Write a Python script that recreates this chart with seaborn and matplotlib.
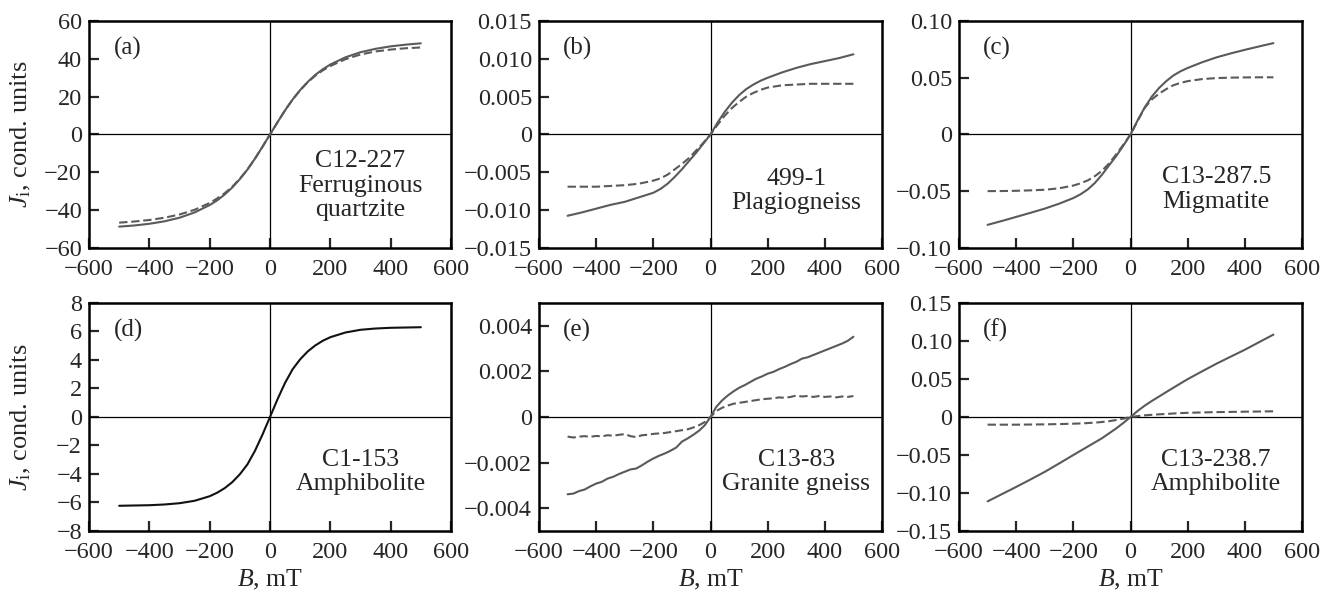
import matplotlib
matplotlib.use("Agg")
import matplotlib.pyplot as plt
import seaborn as sns

# ---------------- data ----------------
B = [-500, -450, -400, -350, -300, -250, -200, -175, -150, -125, -100, -75, -50, -25, 0,
     25, 50, 75, 100, 125, 150, 175, 200, 250, 300, 350, 400, 450, 500]

B_e = [-500, -480, -460, -440, -420, -400, -380, -360, -340, -320, -300, -280, -260, -240,
       -220, -200, -180, -160, -140, -120, -100, -80, -60, -40, -20, 0, 20, 40, 60, 80, 100,
       120, 140, 160, 180, 200, 220, 240, 260, 280, 300, 320, 340, 360, 380, 400, 420, 440,
       460, 480, 500]

a_solid = [-48.7, -48.1, -47.2, -45.9, -44.0, -41.2, -37.3, -34.8, -31.7, -28.0, -23.6, -18.6,
           -12.8, -6.5, 0, 6.5, 12.8, 18.5, 23.5, 27.8, 31.5, 34.5, 37.0, 40.8, 43.5, 45.3,
           46.6, 47.5, 48.2]
a_dashed = [-46.6, -46.0, -45.2, -44.0, -42.3, -39.8, -36.2, -33.8, -31.0, -27.6, -23.4, -18.5,
            -12.8, -6.5, 0, 6.5, 12.8, 18.5, 23.4, 27.6, 31.1, 33.9, 36.2, 39.8, 42.3, 43.9,
            44.9, 45.6, 46.0]

b_solid = [-0.01074, -0.0103, -0.0098, -0.0093, -0.0089, -0.0083, -0.0077, -0.0072, -0.0065,
           -0.0056, -0.0046, -0.0035, -0.0024, -0.0012, 0, 0.0016, 0.0030, 0.0042, 0.0052,
           0.0060, 0.0066, 0.0071, 0.0075, 0.0082, 0.0088, 0.0093, 0.0097, 0.0101, 0.0106]
b_dashed = [-0.0069, -0.0069, -0.0069, -0.0068, -0.0067, -0.0065, -0.0061, -0.0058, -0.0053,
            -0.0046, -0.0039, -0.0031, -0.0021, -0.0011, 0, 0.0013, 0.0025, 0.0035, 0.0043,
            0.0050, 0.0055, 0.0059, 0.0062, 0.0065, 0.0066, 0.0067, 0.0067, 0.0067, 0.0067]

c_solid = [-0.0796, -0.0762, -0.0726, -0.0690, -0.0653, -0.0610, -0.0560, -0.0527, -0.0485,
           -0.0428, -0.0355, -0.0272, -0.0190, -0.0098, 0, 0.0125, 0.0240, 0.0335, 0.0410,
           0.0470, 0.0520, 0.0557, 0.0586, 0.0636, 0.0679, 0.0714, 0.0746, 0.0776, 0.0805]
c_dashed = [-0.0499, -0.0498, -0.0496, -0.0492, -0.0487, -0.0474, -0.0450, -0.0430, -0.0405,
            -0.0368, -0.0320, -0.0255, -0.0175, -0.0090, 0, 0.0120, 0.0236, 0.0310, 0.0360,
            0.0400, 0.0434, 0.0455, 0.0470, 0.0488, 0.0497, 0.0501, 0.0503, 0.0504, 0.0504]

d_solid = [-6.23, -6.21, -6.19, -6.14, -6.05, -5.88, -5.56, -5.31, -4.99, -4.57, -4.02, -3.33,
           -2.38, -1.24, 0, 1.25, 2.40, 3.35, 4.05, 4.60, 5.02, 5.35, 5.60, 5.93, 6.12, 6.21,
           6.26, 6.28, 6.30]

e_solid = [-0.00339, -0.00336, -0.00325, -0.00318, -0.00304, -0.00292, -0.00284, -0.00270,
           -0.00262, -0.00250, -0.00240, -0.00230, -0.00226, -0.00212, -0.00196, -0.00182,
           -0.00170, -0.00160, -0.00148, -0.00134, -0.00108, -0.00094, -0.00078, -0.00060,
           -0.00036, 0.0, 0.00044, 0.00072, 0.00094, 0.00112, 0.00128, 0.00140, 0.00154,
           0.00168, 0.00178, 0.00190, 0.00198, 0.00210, 0.00220, 0.00232, 0.00242, 0.00256,
           0.00262, 0.00272, 0.00282, 0.00292, 0.00302, 0.00312, 0.00322, 0.00334, 0.00352]
e_dashed = [-0.00086, -0.00090, -0.00086, -0.00084, -0.00087, -0.00083, -0.00085, -0.00080,
            -0.00082, -0.00078, -0.00075, -0.00084, -0.00088, -0.00080, -0.00078, -0.00074,
            -0.00072, -0.00070, -0.00066, -0.00062, -0.00058, -0.00054, -0.00046, -0.00036,
            -0.00022, 0.0, 0.00026, 0.00040, 0.00050, 0.00058, 0.00062, 0.00066, 0.00070,
            0.00074, 0.00078, 0.00080, 0.00082, 0.00086, 0.00084, 0.00088, 0.00094, 0.00090,
            0.00092, 0.00088, 0.00092, 0.00088, 0.00090, 0.00086, 0.00090, 0.00088, 0.00092]

f_solid = [-0.1110, -0.1015, -0.0920, -0.0822, -0.0722, -0.0612, -0.0500, -0.0445, -0.0390,
           -0.0335, -0.0280, -0.0215, -0.0150, -0.0078, 0, 0.0080, 0.0150, 0.0212, 0.0270,
           0.0328, 0.0385, 0.0442, 0.0498, 0.0600, 0.0700, 0.0793, 0.0885, 0.0985, 0.1084]
f_dashed = [-0.0101, -0.0101, -0.0101, -0.0099, -0.0097, -0.0093, -0.0088, -0.0085, -0.0080,
            -0.0074, -0.0066, -0.0055, -0.0040, -0.0022, 0, 0.0012, 0.0022, 0.0029, 0.0035,
            0.0040, 0.0046, 0.0051, 0.0055, 0.0060, 0.0064, 0.0067, 0.0070, 0.0072, 0.0075]

x_ticks = [-600, -400, -200, 0, 200, 400, 600]
x_ticklabels = ["\u2212600", "\u2212400", "\u2212200", "0", "200", "400", "600"]

a_yticks = [-60, -40, -20, 0, 20, 40, 60]
a_yticklabels = ["\u221260", "\u221240", "\u221220", "0", "20", "40", "60"]
b_yticks = [-0.015, -0.010, -0.005, 0, 0.005, 0.010, 0.015]
b_yticklabels = ["\u22120.015", "\u22120.010", "\u22120.005", "0", "0.005", "0.010", "0.015"]
c_yticks = [-0.10, -0.05, 0, 0.05, 0.10]
c_yticklabels = ["\u22120.10", "\u22120.05", "0", "0.05", "0.10"]
d_yticks = [-8, -6, -4, -2, 0, 2, 4, 6, 8]
d_yticklabels = ["\u22128", "\u22126", "\u22124", "\u22122", "0", "2", "4", "6", "8"]
e_yticks = [-0.004, -0.002, 0, 0.002, 0.004]
e_yticklabels = ["\u22120.004", "\u22120.002", "0", "0.002", "0.004"]
f_yticks = [-0.15, -0.10, -0.05, 0, 0.05, 0.10, 0.15]
f_yticklabels = ["\u22120.15", "\u22120.10", "\u22120.05", "0", "0.05", "0.10", "0.15"]

panel_letters = ["(a)", "(b)", "(c)", "(d)", "(e)", "(f)"]
sample_texts = ["C12-227\nFerruginous\nquartzite", "499-1\nPlagiogneiss",
                "C13-287.5\nMigmatite", "C1-153\nAmphibolite",
                "C13-83\nGranite gneiss", "C13-238.7\nAmphibolite"]

# ---------------- style ----------------
sns.set_style("ticks")
plt.rcParams["font.family"] = ["Liberation Serif", "DejaVu Serif"]
plt.rcParams["mathtext.fontset"] = "custom"
plt.rcParams["mathtext.rm"] = "Liberation Serif"
plt.rcParams["mathtext.it"] = "Liberation Serif:italic"

fig = plt.figure(figsize=(13.32, 5.98), dpi=100)
W, H = 1332.0, 598.0


def axes_px(x0, x1, y0, y1):
    return fig.add_axes([x0 / W, 1 - y1 / H, (x1 - x0) / W, (y1 - y0) / H])


cols = [(89, 451), (539, 882), (959, 1302)]
rows = [(21, 248), (303, 531)]

panels = [
    dict(series=[(B, a_solid, "-"), (B, a_dashed, "--")], ylim=(-60, 60),
         yt=a_yticks, ytl=a_yticklabels, color="#5a5a5a", ty=0.275),
    dict(series=[(B, b_solid, "-"), (B, b_dashed, "--")], ylim=(-0.015, 0.015),
         yt=b_yticks, ytl=b_yticklabels, color="#5a5a5a", ty=0.252),
    dict(series=[(B, c_solid, "-"), (B, c_dashed, "--")], ylim=(-0.10, 0.10),
         yt=c_yticks, ytl=c_yticklabels, color="#5a5a5a", ty=0.258),
    dict(series=[(B, d_solid, "-")], ylim=(-8, 8),
         yt=d_yticks, ytl=d_yticklabels, color="#111111", ty=0.258),
    dict(series=[(B_e, e_solid, "-"), (B_e, e_dashed, "--")], ylim=(-0.005, 0.005),
         yt=e_yticks, ytl=e_yticklabels, color="#5a5a5a", ty=0.258),
    dict(series=[(B, f_solid, "-"), (B, f_dashed, "--")], ylim=(-0.15, 0.15),
         yt=f_yticks, ytl=f_yticklabels, color="#5a5a5a", ty=0.258),
]

tick_fs = 17.5
text_fs = 18.5
for i, p in enumerate(panels):
    r, c = divmod(i, 3)
    ax = axes_px(cols[c][0], cols[c][1], rows[r][0], rows[r][1])
    ax.axhline(0, color="black", lw=0.9, zorder=1)
    ax.axvline(0, color="black", lw=0.9, zorder=1)
    for xs, ys, ls in p["series"]:
        line_style = "-" if ls == "-" else (0, (4.0, 1.8))
        sns.lineplot(x=xs, y=ys, ax=ax, color=p["color"], lw=1.5, sort=False,
                     estimator=None, linestyle=line_style, zorder=3)
    ax.set_xlim(-600, 600)
    ax.set_ylim(*p["ylim"])
    ax.set_xticks(x_ticks)
    ax.set_xticklabels(x_ticklabels)
    ax.set_yticks(p["yt"])
    ax.set_yticklabels(p["ytl"])
    ax.tick_params(direction="in", length=7, width=1.6, labelsize=tick_fs,
                   top=False, right=False)
    ax.tick_params(axis="x", pad=8)
    ax.tick_params(axis="y", pad=5)
    for s in ax.spines.values():
        s.set_linewidth(1.8)
        s.set_color("black")
    ax.text(0.07, 0.88, panel_letters[i], transform=ax.transAxes, fontsize=18,
            ha="left", va="center")
    ax.text(0.75, p["ty"], sample_texts[i], transform=ax.transAxes, fontsize=text_fs,
            ha="center", va="center", linespacing=1.15)
    if c == 0:
        ax.set_ylabel("$J_\\mathrm{i}$, cond. units", fontsize=19)
        ax.yaxis.set_label_coords(-0.155, 0.5)
    else:
        ax.set_ylabel("")
    if r == 1:
        ax.set_xlabel("$B$, mT", fontsize=18.5)
        ax.xaxis.set_label_coords(0.5, -0.16)
    else:
        ax.set_xlabel("")

fig.savefig("out.png", dpi=100)
